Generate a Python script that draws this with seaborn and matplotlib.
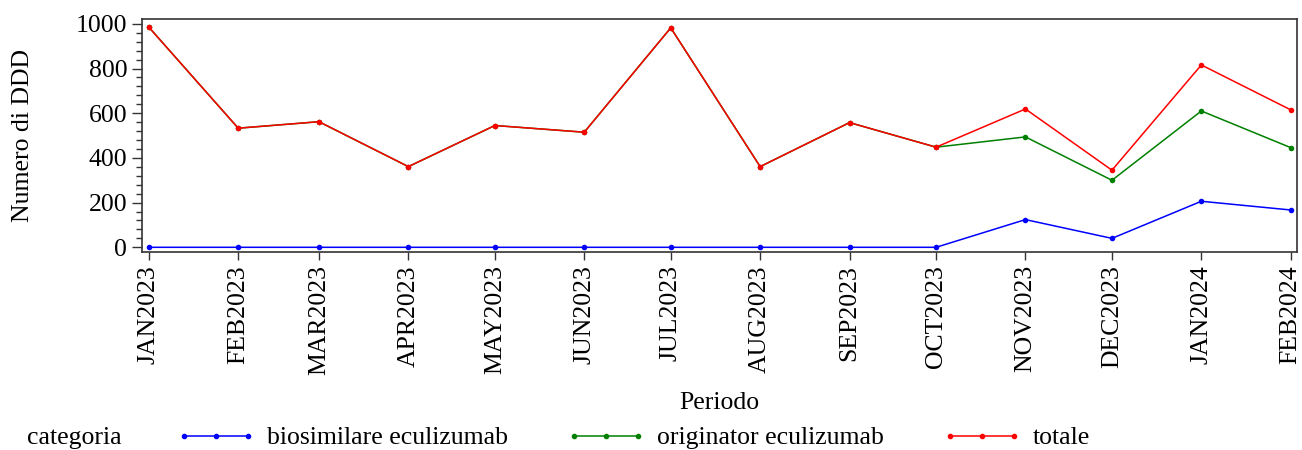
import pandas as pd
import matplotlib.pyplot as plt
from matplotlib.lines import Line2D
from matplotlib.ticker import MultipleLocator
import seaborn as sns

# month labels and values
periodi = ['JAN2023', 'FEB2023', 'MAR2023', 'APR2023', 'MAY2023', 'JUN2023', 'JUL2023',
           'AUG2023', 'SEP2023', 'OCT2023', 'NOV2023', 'DEC2023', 'JAN2024', 'FEB2024']
biosimilare = [0, 0, 0, 0, 0, 0, 0, 0, 0, 0, 124, 40, 206, 167]
originator = [985, 533, 562, 361, 545, 515, 982, 361, 558, 448, 494, 300, 610, 446]
totale = [985, 533, 562, 361, 545, 515, 982, 361, 558, 448, 619, 345, 816, 615]

categorie = ['biosimilare eculizumab', 'originator eculizumab', 'totale']
colori = ['#0000ff', '#008000', '#ff0000']

date = pd.to_datetime(periodi, format='%b%Y')
data = pd.DataFrame({
    'Periodo': list(date) * 3,
    'DDD': biosimilare + originator + totale,
    'categoria': [categorie[0]] * 14 + [categorie[1]] * 14 + [categorie[2]] * 14,
})

sns.set_style("ticks")
plt.rcParams['font.family'] = ['Liberation Serif', 'DejaVu Serif']
plt.rcParams['font.size'] = 18.5
plt.rcParams['text.color'] = 'black'
plt.rcParams['axes.labelcolor'] = 'black'
plt.rcParams['xtick.color'] = 'black'
plt.rcParams['ytick.color'] = 'black'

fig = plt.figure(figsize=(13.02, 4.5), dpi=100)
ax = fig.add_axes([0.109, 0.44, 0.887, 0.518])

sns.lineplot(data=data, x='Periodo', y='DDD', hue='categoria', hue_order=categorie,
             palette=colori, marker='o', markersize=4, markeredgewidth=0,
             linewidth=1.1, ax=ax, legend=False)

ax.set_xlim(date[0] - pd.Timedelta(days=2.4), date[-1] + pd.Timedelta(days=2.1))
ax.set_ylim(-21, 1022)
ax.set_xticks(date)
ax.set_xticklabels(periodi, rotation=90, fontsize=18.5)
ax.yaxis.set_major_locator(MultipleLocator(200))
ax.yaxis.set_minor_locator(MultipleLocator(40))
ax.tick_params(axis='y', labelsize=18.5, length=7, width=1, color='#333333')
ax.tick_params(axis='y', which='minor', length=4, width=1, color='#333333')
ax.tick_params(axis='x', length=6, width=1, color='#333333')
for s in ax.spines.values():
    s.set_linewidth(1.2)
    s.set_color('#333333')

ax.set_ylabel('Numero di DDD', fontsize=18.5, labelpad=30)
ax.set_xlabel('Periodo', fontsize=18.5, labelpad=12)

# legend at the bottom, title on the left
fig.text(27 / 1302, 1 - 438 / 450, 'categoria', fontsize=18.5, va='center', ha='left')
handles = [Line2D([0], [0], color=c, marker='o', markersize=3, linewidth=1.1) for c in colori]
fig.legend(handles, categorie, loc='center left', bbox_to_anchor=(176 / 1302, 1 - 438 / 450),
           ncol=3, frameon=False, fontsize=18.5, numpoints=3, handlelength=3.1,
           handletextpad=0.45, columnspacing=2.25, borderaxespad=0, borderpad=0)

fig.savefig('out.png', dpi=100)
